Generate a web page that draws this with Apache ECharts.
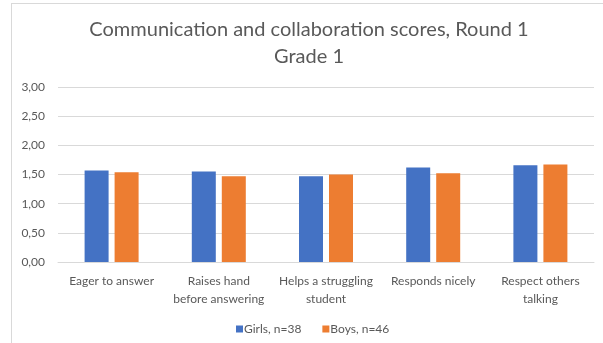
<!DOCTYPE html>
<html>
<head>
<meta charset="utf-8">
<script src="https://cdn.jsdelivr.net/npm/echarts@6/dist/echarts.min.js"></script>
<style>
  html, body { margin: 0; padding: 0; background: #ffffff; }
  #chart { width: 603px; height: 343px; }
</style>
</head>
<body>
<div id="chart"></div>
<script>
// Communication and collaboration scores, Round 1, Grade 1
var categories = [
  'Eager to answer',
  'Raises hand\nbefore answering',
  'Helps a struggling\nstudent',
  'Responds nicely',
  'Respect others\ntalking'
];
var girlsName = 'Girls, n=38';
var boysName = 'Boys, n=46';
var girlsScores = [1.57, 1.55, 1.47, 1.62, 1.66];
var boysScores = [1.54, 1.47, 1.50, 1.52, 1.67];
var yTicks = { min: 0, max: 3, interval: 0.5 };

var FONT = 'Lato';
var TEXT = '#595959';
var GRID = '#d9d9d9';

var chart = echarts.init(document.getElementById('chart'), null, { renderer: 'canvas' });
chart.setOption({
  animation: false,
  backgroundColor: '#ffffff',
  textStyle: { fontFamily: FONT },
  graphic: [
    // chart frame (left and top edges)
    { type: 'line', silent: true, shape: { x1: 11.5, y1: 3, x2: 11.5, y2: 343 }, style: { stroke: GRID, lineWidth: 1 } },
    { type: 'line', silent: true, shape: { x1: 11, y1: 3.5, x2: 603, y2: 3.5 }, style: { stroke: GRID, lineWidth: 1 } },
    // two-line title
    {
      type: 'text', silent: true, x: 309, y: 16,
      style: {
        text: 'Communication and collaboration scores, Round 1\nGrade 1',
        align: 'center', verticalAlign: 'top',
        fontFamily: FONT, fontSize: 20, lineHeight: 27, fill: TEXT
      }
    }
  ],
  legend: {
    bottom: 3,
    left: 231,
    itemWidth: 7,
    itemHeight: 7,
    itemGap: 21,
    icon: 'rect',
    textStyle: { fontFamily: FONT, fontSize: 12, color: TEXT, padding: [0, 0, 0, -4] },
    data: [girlsName, boysName]
  },
  grid: { left: 58, right: 9, top: 87, bottom: 81, containLabel: false },
  xAxis: {
    type: 'category',
    data: categories,
    axisLine: { lineStyle: { color: GRID } },
    axisTick: { show: false },
    axisLabel: { fontFamily: FONT, fontSize: 12, color: TEXT, margin: 10, lineHeight: 18, interval: 0 }
  },
  yAxis: {
    type: 'value',
    min: yTicks.min,
    max: yTicks.max,
    interval: yTicks.interval,
    axisLine: { show: false },
    axisTick: { show: false },
    splitLine: { lineStyle: { color: GRID } },
    axisLabel: {
      fontFamily: FONT, fontSize: 12, color: TEXT, margin: 13,
      formatter: function (v) { return v.toFixed(2).replace('.', ','); }
    }
  },
  series: [
    { name: girlsName, type: 'bar', data: girlsScores, barWidth: 24, barGap: '25%', itemStyle: { color: '#4472C4' } },
    { name: boysName, type: 'bar', data: boysScores, barWidth: 24, barGap: '25%', itemStyle: { color: '#ED7D31' } }
  ]
});
</script>
</body>
</html>
